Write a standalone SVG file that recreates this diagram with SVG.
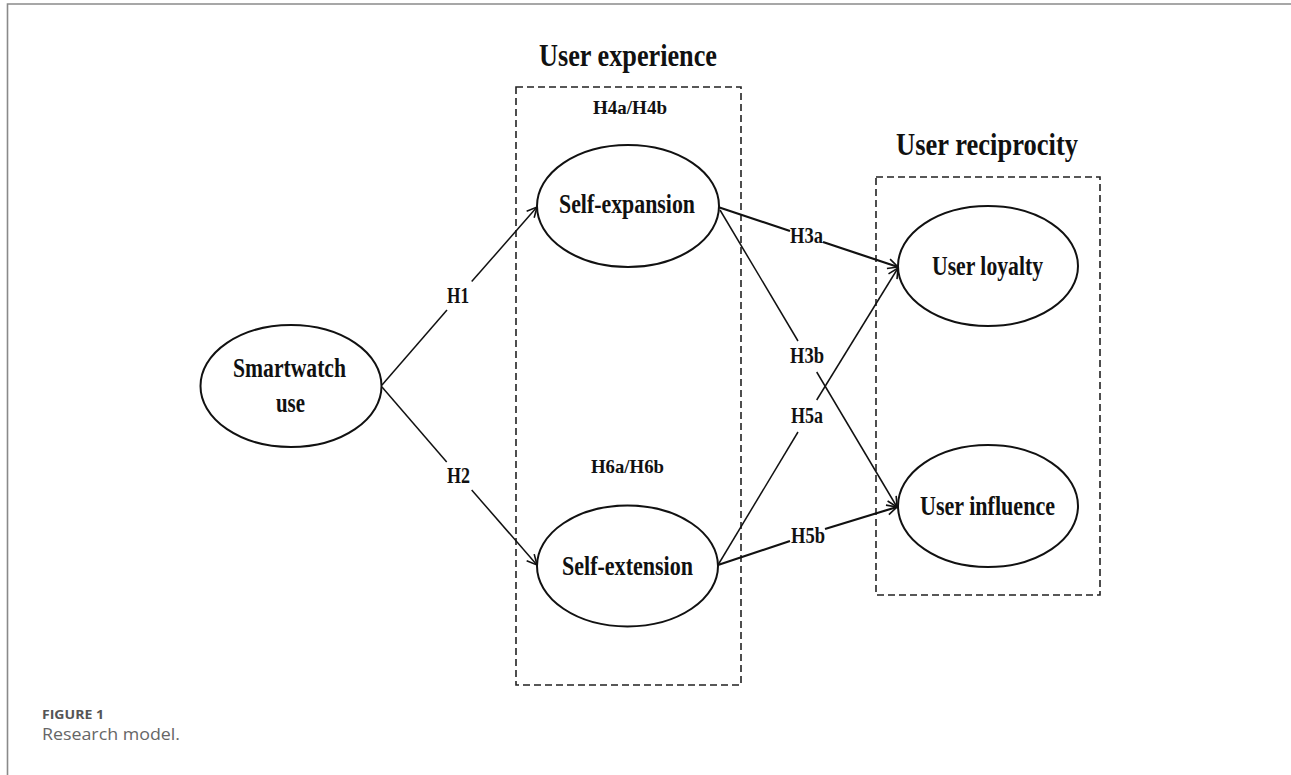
<svg xmlns="http://www.w3.org/2000/svg" width="1291" height="775" viewBox="0 0 1291 775">
<style>
.bg{fill:#fff}
.frame{stroke:#8a8a8a;stroke-width:1.6;fill:none}
.box{fill:none;stroke:#222;stroke-width:1.6;stroke-dasharray:7 4}
.node{fill:#fff;stroke:#111;stroke-width:2}
.t{font-family:"Liberation Serif","Times New Roman",serif;font-weight:bold;fill:#111}
.title{font-size:32px}
.lbl{font-size:28px}
.h{font-size:23px}
.hs{font-size:19px}
.thin{stroke:#111;stroke-width:1.5;fill:none}
.thick{stroke:#111;stroke-width:2.2;fill:none}
.cap1{font-family:"Open Sans","Noto Sans",sans-serif;font-weight:bold;font-size:13px;fill:#555}
.cap2{font-family:"Open Sans","Noto Sans",sans-serif;font-size:16px;fill:#666}
</style>
<defs>
<marker id="arr" viewBox="0 0 12 12" refX="11" refY="6" markerWidth="12" markerHeight="12" markerUnits="userSpaceOnUse" orient="auto">
<path d="M1,1 L11,6 L1,11" fill="none" stroke="#111" stroke-width="1.6"/>
</marker>
</defs>
<rect class="bg" x="0" y="0" width="1291" height="775"/>
<path class="frame" d="M7.5,775 L7.5,4 L1291,4"/>

<g id="group-user-experience">
<rect class="box" x="516" y="87" width="225" height="598"/>
<text class="t title" x="539" y="66" textLength="178" lengthAdjust="spacingAndGlyphs">User experience</text>
<text class="t hs" x="593" y="114" textLength="74" lengthAdjust="spacingAndGlyphs">H4a/H4b</text>
<text class="t hs" x="591" y="473" textLength="73" lengthAdjust="spacingAndGlyphs">H6a/H6b</text>
</g>
<g id="group-user-reciprocity">
<rect class="box" x="876" y="177" width="224" height="418"/>
<text class="t title" x="896" y="155" textLength="182" lengthAdjust="spacingAndGlyphs">User reciprocity</text>
</g>

<g id="connectors">
<path class="thin" d="M382,385 L447,310"/>
<path class="thin" d="M471.7,281.6 L537,207" marker-end="url(#arr)"/>
<path class="thin" d="M382,387 L446.7,461.9"/>
<path class="thin" d="M471.7,490 L537,565" marker-end="url(#arr)"/>
<path class="thick" d="M718,207 L790,231"/>
<path class="thick" d="M823,242 L898,267" marker-end="url(#arr)"/>
<path class="thin" d="M720,210 L798,341"/>
<path class="thin" d="M816.7,372 L897,507" marker-end="url(#arr)"/>
<path class="thin" d="M718,565 L798,432"/>
<path class="thin" d="M816.7,400 L898,268" marker-end="url(#arr)"/>
<path class="thick" d="M718,565 L790,541"/>
<path class="thick" d="M825,529 L897,507" marker-end="url(#arr)"/>
<text class="t h" x="447" y="303" textLength="22" lengthAdjust="spacingAndGlyphs">H1</text>
<text class="t h" x="447" y="483" textLength="23" lengthAdjust="spacingAndGlyphs">H2</text>
<text class="t h" x="790" y="243" textLength="33" lengthAdjust="spacingAndGlyphs">H3a</text>
<text class="t h" x="790" y="363" textLength="34" lengthAdjust="spacingAndGlyphs">H3b</text>
<text class="t h" x="791" y="423" textLength="32" lengthAdjust="spacingAndGlyphs">H5a</text>
<text class="t h" x="791" y="543" textLength="34" lengthAdjust="spacingAndGlyphs">H5b</text>
</g>

<g id="node-smartwatch-use">
<ellipse class="node" cx="291" cy="386" rx="90.5" ry="61"/>
<text class="t lbl" x="233" y="377" textLength="113" lengthAdjust="spacingAndGlyphs">Smartwatch</text>
<text class="t lbl" x="276" y="412" textLength="29" lengthAdjust="spacingAndGlyphs">use</text>
</g>
<g id="node-self-expansion">
<ellipse class="node" cx="628" cy="206" rx="91" ry="61"/>
<text class="t lbl" x="559" y="213" textLength="136" lengthAdjust="spacingAndGlyphs">Self-expansion</text>
</g>
<g id="node-self-extension">
<ellipse class="node" cx="627.5" cy="566" rx="90.5" ry="60.5"/>
<text class="t lbl" x="562" y="575" textLength="131" lengthAdjust="spacingAndGlyphs">Self-extension</text>
</g>
<g id="node-user-loyalty">
<ellipse class="node" cx="988" cy="266" rx="90" ry="60"/>
<text class="t lbl" x="932" y="275" textLength="111" lengthAdjust="spacingAndGlyphs">User loyalty</text>
</g>
<g id="node-user-influence">
<ellipse class="node" cx="988" cy="506" rx="90" ry="61"/>
<text class="t lbl" x="920" y="515" textLength="135" lengthAdjust="spacingAndGlyphs">User influence</text>
</g>

<g id="caption">
<text class="cap1" x="42" y="719" textLength="62" lengthAdjust="spacingAndGlyphs">FIGURE 1</text>
<text class="cap2" x="42" y="740" textLength="138" lengthAdjust="spacingAndGlyphs">Research model.</text>
</g>
</svg>
